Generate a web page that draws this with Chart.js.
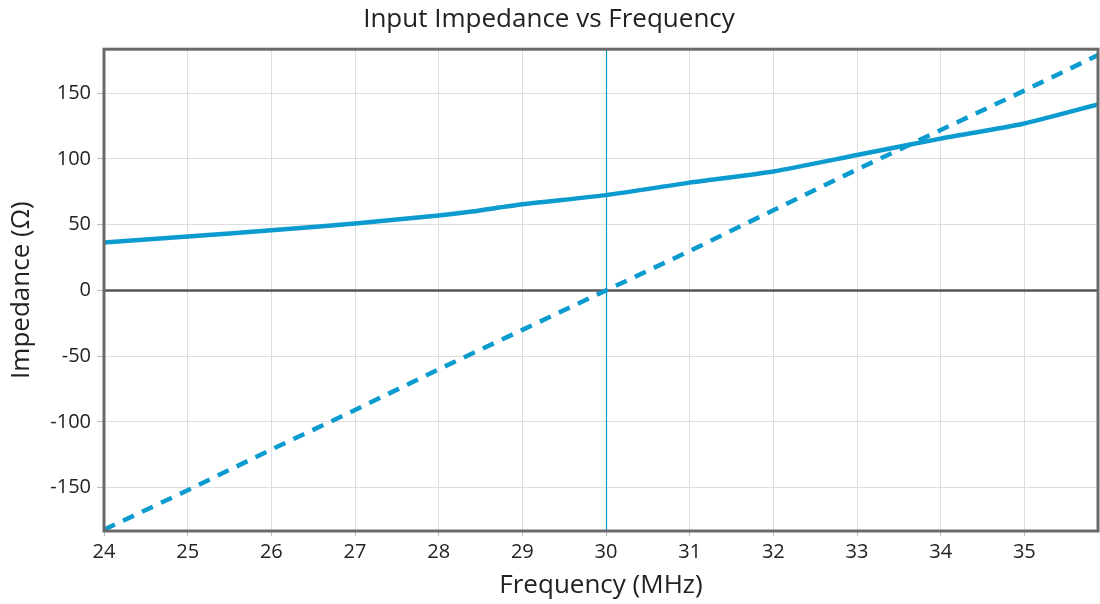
<!DOCTYPE html>
<html>
<head>
<meta charset="utf-8">
<script src="https://cdn.jsdelivr.net/npm/chart.js@4.4.0/dist/chart.umd.min.js"></script>
<style>
  html, body { margin: 0; padding: 0; background: #fff; }
  #wrap { width: 1100px; height: 604px; }
</style>
</head>
<body>
<div id="wrap"><canvas id="chart" width="1100" height="604"></canvas></div>
<script>
/* ======================= DATA ======================= */
const freqMHz    = [24, 25, 26, 27, 28, 28.4, 29, 30, 31, 32, 33, 34, 35, 35.88];
const resistance = [36.5, 41, 45.7, 51, 57, 60, 65.5, 72.5, 82, 90.5, 103, 115.5, 127, 141.5];
const reactance  = [-182, -152, -121, -91, -60, -48, -30, 0, 30, 61, 92, 122, 152, 179];

const xTicks = [24, 25, 26, 27, 28, 29, 30, 31, 32, 33, 34, 35];
const yTicks = [-150, -100, -50, 0, 50, 100, 150];
const markerFreq = 30;

/* ======================= STYLE ======================= */
const BLUE = '#0b9bcf';
const FONT = '"Open Sans", "Noto Sans", sans-serif';

const pts = ys => freqMHz.map((f, i) => ({ x: f, y: ys[i] }));

// marker at 30 MHz, zero line on top of it, box round the plot
const overlays = {
  id: 'overlays',
  beforeDatasetsDraw(chart) {
    const { ctx, chartArea: a, scales } = chart;
    const x = Math.round(scales.x.getPixelForValue(markerFreq)) + 0.5;
    const y0 = scales.y.getPixelForValue(0);
    ctx.save();
    ctx.strokeStyle = BLUE;
    ctx.lineWidth = 1.2;
    ctx.beginPath();
    ctx.moveTo(x, a.top);
    ctx.lineTo(x, a.bottom);
    ctx.stroke();
    ctx.strokeStyle = '#555555';
    ctx.lineWidth = 2.5;
    ctx.beginPath();
    ctx.moveTo(a.left, y0);
    ctx.lineTo(a.right, y0);
    ctx.stroke();
    ctx.restore();
  },
  afterDraw(chart) {
    const { ctx, chartArea: a } = chart;
    ctx.save();
    ctx.strokeStyle = '#6a6a6a';
    ctx.lineWidth = 3;
    ctx.strokeRect(a.left, a.top, a.right - a.left, a.bottom - a.top);
    ctx.restore();
  }
};

/* ======================= CHART ======================= */
new Chart(document.getElementById('chart'), {
  type: 'line',
  data: {
    datasets: [
      {
        label: 'Resistance',
        data: pts(resistance),
        borderColor: BLUE,
        borderWidth: 4.5,
        pointRadius: 0,
        tension: 0.2
      },
      {
        label: 'Reactance',
        data: pts(reactance),
        borderColor: BLUE,
        borderWidth: 4.5,
        borderDash: [12, 9],
        pointRadius: 0,
        tension: 0
      }
    ]
  },
  options: {
    responsive: false,
    animation: false,
    events: [],
    layout: { padding: { left: 0, right: 2, top: 0, bottom: 0 } },
    plugins: {
      legend: { display: false },
      tooltip: { enabled: false },
      title: {
        display: true,
        text: 'Input Impedance vs Frequency',
        color: '#222',
        font: { family: FONT, size: 26, weight: 'normal' },
        padding: { top: 4, bottom: 14 }
      }
    },
    scales: {
      x: {
        type: 'linear',
        min: 24,
        max: 35.88,
        afterBuildTicks: s => { s.ticks = xTicks.map(v => ({ value: v })); },
        afterFit: s => { s.height = 73; },
        grid: {
          color: c => c.tick && c.tick.value === markerFreq ? 'rgba(0,0,0,0)' : '#dddddd',
          lineWidth: 1,
          tickColor: '#bbbbbb',
          tickLength: 5
        },
        border: { display: false },
        ticks: {
          color: '#222',
          font: { family: FONT, size: 20 },
          padding: 4,
          maxRotation: 0
        },
        title: {
          display: true,
          text: 'Frequency (MHz)',
          color: '#222',
          font: { family: FONT, size: 26 },
          padding: { top: 0, bottom: 3 }
        }
      },
      y: {
        type: 'linear',
        min: -183,
        max: 183.5,
        afterBuildTicks: s => { s.ticks = yTicks.map(v => ({ value: v })); },
        afterFit: s => { s.width = 104; },
        grid: {
          color: '#dddddd',
          lineWidth: 1,
          tickColor: '#bbbbbb',
          tickLength: 7
        },
        border: { display: false },
        ticks: {
          color: '#222',
          font: { family: FONT, size: 20 },
          padding: 6
        },
        title: {
          display: true,
          text: 'Impedance (Ω)',
          color: '#222',
          font: { family: FONT, size: 26 },
          padding: { top: 6, bottom: 0 }
        }
      }
    }
  },
  plugins: [overlays]
});
</script>
</body>
</html>
